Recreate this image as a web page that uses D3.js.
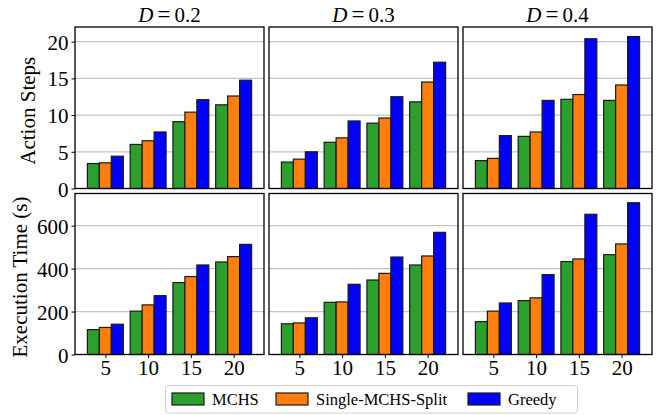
<!DOCTYPE html>
<html>
<head>
<meta charset="utf-8">
<script src="https://cdn.jsdelivr.net/npm/d3@7"></script>
<style>
  body { margin: 0; background: #fff; }
</style>
</head>
<body>
<div id="chart"></div>
<script>
const categories = [5, 10, 15, 20];
const densities = ['0.2', '0.3', '0.4'];
const methods = ['MCHS', 'Single-MCHS-Split', 'Greedy'];
const colors = ['#2ca02c', '#ff7f0e', '#0000ff'];

// action steps, [density][method][category]
const stepsD02 = [[3.4, 6.0, 9.1, 11.4], [3.5, 6.5, 10.4, 12.6], [4.4, 7.7, 12.1, 14.75]];
const stepsD03 = [[3.6, 6.3, 8.9, 11.8], [4.0, 6.9, 9.6, 14.5], [5.0, 9.2, 12.5, 17.2]];
const stepsD04 = [[3.8, 7.1, 12.15, 12.0], [4.1, 7.7, 12.8, 14.1], [7.2, 12.0, 20.4, 20.7]];
// execution time (s)
const timeD02 = [[116, 202, 335, 431], [126, 231, 363, 456], [141, 274, 417, 513]];
const timeD03 = [[143, 243, 347, 417], [147, 245, 378, 459], [171, 327, 454, 569]];
const timeD04 = [[153, 251, 433, 465], [202, 264, 445, 515], [240, 372, 653, 707]];

const stepTicks = [0, 5, 10, 15, 20];
const timeTicks = [0, 200, 400, 600];

const FONT = '"Liberation Serif", "Times New Roman", Times, serif';

const rows = [
  { label: 'Action Steps', data: [stepsD02, stepsD03, stepsD04], max: 22, ticks: stepTicks, y0: 27, y1: 188.5 },
  { label: 'Execution Time (s)', data: [timeD02, timeD03, timeD04], max: 750, ticks: timeTicks, y0: 193.5, y1: 354.5 }
];
const cols = [[75, 264], [269, 458], [463, 652]];

const width = 662, height = 415;
const svg = d3.select('#chart').append('svg')
  .attr('width', width)
  .attr('height', height)
  .style('font-family', FONT);

const barW = 0.28;

rows.forEach((row, ri) => {
  const y = d3.scaleLinear().domain([0, row.max]).range([row.y1, row.y0]);
  cols.forEach((c, ci) => {
    const x = d3.scaleLinear().domain([-0.71, categories.length - 1 + 0.71]).range(c);
    const g = svg.append('g');

    // grid
    g.selectAll('line.grid')
      .data(row.ticks.filter(t => t > 0))
      .enter().append('line')
      .attr('x1', c[0]).attr('x2', c[1])
      .attr('y1', d => y(d)).attr('y2', d => y(d))
      .attr('stroke', '#c4c4c4')
      .attr('stroke-width', 1.2);

    // bars
    row.data[ci].forEach((vals, mi) => {
      g.selectAll('rect.m' + mi)
        .data(vals)
        .enter().append('rect')
        .attr('x', (d, i) => x(i + (mi - 1) * barW - barW / 2))
        .attr('width', x(barW) - x(0))
        .attr('y', d => y(d))
        .attr('height', d => y(0) - y(d))
        .attr('fill', colors[mi])
        .attr('stroke', '#1a1a1a')
        .attr('stroke-width', 1.2);
    });

    // frame
    g.append('rect')
      .attr('x', c[0]).attr('y', row.y0)
      .attr('width', c[1] - c[0]).attr('height', row.y1 - row.y0)
      .attr('fill', 'none')
      .attr('stroke', '#000')
      .attr('stroke-width', 1.3);

    if (ci === 0) {
      const ay = d3.axisLeft(y).tickValues(row.ticks).tickSize(3.5).tickPadding(3);
      const ag = g.append('g').attr('transform', `translate(${c[0]},0)`).call(ay);
      ag.attr('font-family', null).attr('font-size', null);
      ag.select('.domain').remove();
      ag.selectAll('text').style('font-family', FONT).style('font-size', '21px').attr('dy', '0.36em');
      ag.selectAll('line').attr('stroke', '#000');
    }
    if (ri === 1) {
      const ax = d3.axisBottom(x).tickValues(d3.range(categories.length))
        .tickFormat(i => categories[i]).tickSize(3.5).tickPadding(2);
      const ag = g.append('g').attr('transform', `translate(0,${row.y1})`).call(ax);
      ag.attr('font-family', null).attr('font-size', null);
      ag.select('.domain').remove();
      ag.selectAll('text').style('font-family', FONT).style('font-size', '21px');
      ag.selectAll('line').attr('stroke', '#000');
    }
    if (ri === 0) {
      const t = g.append('text')
        .attr('x', (c[0] + c[1]) / 2)
        .attr('y', 21.5)
        .attr('text-anchor', 'middle')
        .style('font-family', FONT)
        .style('font-size', '21px');
      t.append('tspan').style('font-style', 'italic').text('D');
      t.append('tspan').attr('dx', 4).style('font-size', '23px').text('=');
      t.append('tspan').attr('dx', 4).text(densities[ci]);
    }
  });

  svg.append('text')
    .attr('transform', `translate(${ri === 0 ? 35 : 27},${(row.y0 + row.y1) / 2 + 3}) rotate(-90)`)
    .attr('text-anchor', 'middle')
    .style('font-family', FONT)
    .style('font-size', '21px')
    .text(row.label);
});

// legend
const lg = svg.append('g');
lg.append('rect')
  .attr('x', 165.5).attr('y', 385.5)
  .attr('width', 412).attr('height', 27.5)
  .attr('rx', 3)
  .attr('fill', '#fff')
  .attr('stroke', '#d0d0d0');
const legendX = [172, 276, 468];
methods.forEach((m, i) => {
  lg.append('rect')
    .attr('x', legendX[i]).attr('y', 393)
    .attr('width', 32).attr('height', 12)
    .attr('fill', colors[i])
    .attr('stroke', '#1a1a1a')
    .attr('stroke-width', 1.2);
  lg.append('text')
    .attr('x', legendX[i] + 40).attr('y', 405)
    .style('font-family', FONT)
    .style('font-size', '16.5px')
    .text(m);
});
</script>
</body>
</html>
